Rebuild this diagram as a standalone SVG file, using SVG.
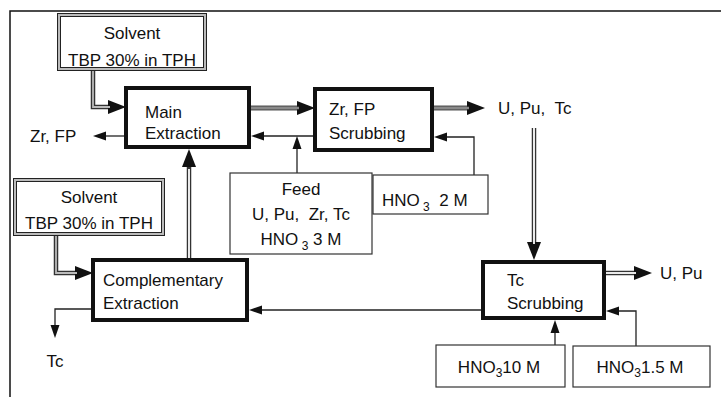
<svg xmlns="http://www.w3.org/2000/svg" width="721" height="397" viewBox="0 0 721 397">
  <style>
    text { font-family: "Liberation Sans", Arial, sans-serif; font-size: 17px; fill: #111; white-space: pre; }
    .mid { text-anchor: middle; }
    .sub { font-size: 12px; }
    .unit { fill: #fff; stroke: #111; stroke-width: 4; }
    .box { fill: #fff; stroke: #333; stroke-width: 1.2; }
    .dbl-out { fill: #fff; stroke: #222; stroke-width: 4; }
    .dbl-in { fill: none; stroke: #bbb; stroke-width: 2; }
    .thin { fill: none; stroke: #222; stroke-width: 1.3; }
    .pipe-out { fill: none; stroke: #333; stroke-width: 4.5; }
    .pipe-grey-out { fill: none; stroke: #555; stroke-width: 5; }
    .pipe-grey { fill: none; stroke: #8a8a8a; stroke-width: 2.6; }
    .pipe-white { fill: none; stroke: #fff; stroke-width: 1.8; }
    .pipe-light { fill: none; stroke: #bbb; stroke-width: 1.8; }
  </style>
  <defs>
    <marker id="bigHead" markerUnits="userSpaceOnUse" markerWidth="18" markerHeight="14" refX="0" refY="7" orient="auto" overflow="visible">
      <path d="M0,0 L18,7 L0,14 z" fill="#111"/>
    </marker>
    <marker id="smallHead" markerUnits="userSpaceOnUse" markerWidth="13" markerHeight="9" refX="0" refY="4.5" orient="auto" overflow="visible">
      <path d="M0,0 L13,4.5 L0,9 z" fill="#111"/>
    </marker>
  </defs>

  <!-- frame -->
  <path d="M10,397 V11 H721" fill="none" stroke="#111" stroke-width="1.5"/>

  <!-- connectors -->
  <g id="connectors">
    <!-- solvent into main extraction -->
    <path class="pipe-out" d="M93,69 V107 H108" marker-end="url(#bigHead)"/>
    <path class="pipe-light" d="M93,69 V107 H110"/>
    <!-- main extraction to Zr, FP scrubbing -->
    <path class="pipe-grey-out" d="M249,108 H297" marker-end="url(#bigHead)"/>
    <path class="pipe-grey" d="M249,108 H299"/>
    <!-- Zr, FP scrubbing to U, Pu, Tc -->
    <path class="pipe-grey-out" d="M432,108 H467" marker-end="url(#bigHead)"/>
    <path class="pipe-grey" d="M432,108 H469"/>
    <!-- U, Pu, Tc down to Tc scrubbing -->
    <path class="pipe-out" d="M534,128 V242" marker-end="url(#bigHead)"/>
    <path class="pipe-white" d="M534,128 V244"/>
    <!-- Tc scrubbing to U, Pu -->
    <path class="pipe-out" d="M604,273 H634" marker-end="url(#bigHead)"/>
    <path class="pipe-white" d="M604,273 H636"/>
    <!-- solvent into complementary extraction -->
    <path class="pipe-out" d="M56,234 V273 H75" marker-end="url(#bigHead)"/>
    <path class="pipe-light" d="M56,234 V273 H77"/>
    <!-- complementary extraction up to main extraction -->
    <path class="pipe-out" d="M189,258 V167" marker-end="url(#bigHead)"/>
    <path class="pipe-white" d="M189,258 V169"/>
    <!-- main extraction to Zr, FP -->
    <path class="thin" d="M124,136 H106" marker-end="url(#smallHead)"/>
    <!-- Zr, FP scrubbing back to main extraction -->
    <path class="thin" d="M313,136 H264" marker-end="url(#smallHead)"/>
    <!-- feed -->
    <path class="thin" d="M297,173 V149" marker-end="url(#smallHead)"/>
    <!-- HNO3 2 M into Zr, FP scrubbing -->
    <path class="thin" d="M474,175 V137 H447" marker-end="url(#smallHead)"/>
    <!-- Tc scrubbing back to complementary extraction -->
    <path class="thin" d="M481,310 H262" marker-end="url(#smallHead)"/>
    <!-- complementary extraction to Tc -->
    <path class="thin" d="M91,309 H55 V325" marker-end="url(#smallHead)"/>
    <!-- HNO3 10 M into Tc scrubbing -->
    <path class="thin" d="M555,345 V333" marker-end="url(#smallHead)"/>
    <!-- HNO3 1.5 M into Tc scrubbing -->
    <path class="thin" d="M636,346 V311 H619" marker-end="url(#smallHead)"/>
  </g>

  <!-- solvent feed (main) -->
  <g id="solvent-main">
    <rect class="dbl-out" x="59" y="15" width="146" height="54"/>
    <rect class="dbl-in" x="59" y="15" width="146" height="54"/>
    <text class="mid" x="132" y="39">Solvent</text>
    <text class="mid" x="132" y="66">TBP 30% in TPH</text>
  </g>

  <!-- solvent feed (complementary) -->
  <g id="solvent-compl">
    <rect class="dbl-out" x="15" y="180" width="148" height="54"/>
    <rect class="dbl-in" x="15" y="180" width="148" height="54"/>
    <text class="mid" x="89" y="203">Solvent</text>
    <text class="mid" x="89" y="229">TBP 30% in TPH</text>
  </g>

  <g id="main-extraction">
    <rect class="unit" x="126" y="88" width="123" height="59"/>
    <text x="145" y="118">Main</text>
    <text x="145" y="139">Extraction</text>
  </g>

  <g id="zr-fp-scrubbing">
    <rect class="unit" x="315" y="89" width="117" height="61"/>
    <text x="329" y="115">Zr, FP</text>
    <text x="329" y="139">Scrubbing</text>
  </g>

  <g id="complementary-extraction">
    <rect class="unit" x="93" y="260" width="154" height="60"/>
    <text x="103" y="286">Complementary</text>
    <text x="103" y="309">Extraction</text>
  </g>

  <g id="tc-scrubbing">
    <rect class="unit" x="483" y="262" width="121" height="56"/>
    <text x="507" y="286">Tc</text>
    <text x="507" y="309">Scrubbing</text>
  </g>

  <g id="feed">
    <rect class="box" x="230" y="173" width="142" height="81"/>
    <text class="mid" x="301" y="195">Feed</text>
    <text class="mid" x="301" y="220">U, Pu,  Zr, Tc</text>
    <text class="mid" x="301" y="245">HNO<tspan class="sub" dy="5"> 3</tspan><tspan dy="-5"> 3 M</tspan></text>
  </g>

  <g id="hno3-2m">
    <rect class="box" x="373" y="175" width="115" height="39"/>
    <text x="382" y="206">HNO<tspan class="sub" dy="5"> 3</tspan><tspan dy="-5">  2 M</tspan></text>
  </g>

  <g id="hno3-10m">
    <rect class="box" x="436" y="345" width="129" height="42"/>
    <text class="mid" x="499" y="373">HNO<tspan class="sub" dy="4">3</tspan><tspan dy="-4">10 M</tspan></text>
  </g>

  <g id="hno3-1-5m">
    <rect class="box" x="573" y="346" width="137" height="41"/>
    <text class="mid" x="640" y="373">HNO<tspan class="sub" dy="4">3</tspan><tspan dy="-4">1.5 M</tspan></text>
  </g>

  <!-- stream labels -->
  <g id="label-zr-fp"><text x="30" y="142">Zr, FP</text></g>
  <g id="label-u-pu-tc"><text x="498" y="114">U, Pu,  Tc</text></g>
  <g id="label-u-pu"><text x="660" y="279">U, Pu</text></g>
  <g id="label-tc"><text class="mid" x="55" y="367">Tc</text></g>
</svg>
